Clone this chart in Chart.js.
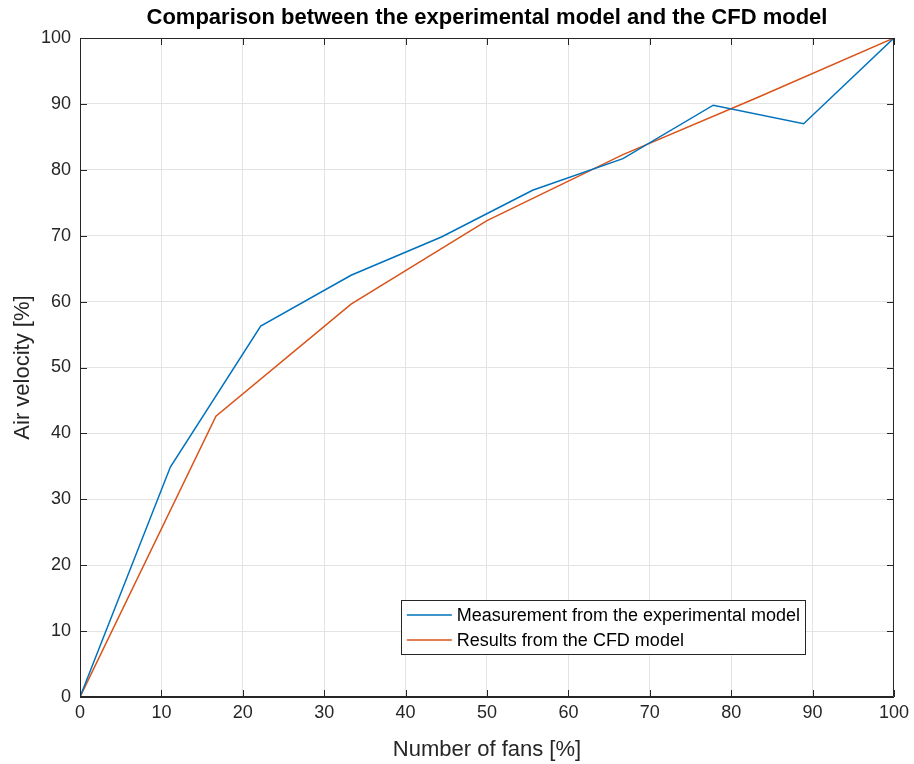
<!DOCTYPE html>
<html>
<head>
<meta charset="utf-8">
<script src="https://cdn.jsdelivr.net/npm/chart.js@4.4.1/dist/chart.umd.min.js"></script>
<style>
  html, body { margin: 0; padding: 0; background: #fff; }
  #wrap { width: 914px; height: 764px; }
</style>
</head>
<body>
<div id="wrap"><canvas id="fanChart" width="914" height="764"></canvas></div>
<script>
// values
const measX = [0, 11.1, 22.2, 33.3, 44.4, 55.6, 66.7, 77.8, 88.9, 100];
const measY = [0, 34.9, 56.3, 64.0, 69.8, 76.9, 81.7, 89.8, 87.0, 100];
const cfdX = [0, 16.7, 33.3, 50, 66.7, 83.3, 100];
const cfdY = [0, 42.6, 59.6, 72.3, 82.3, 91.0, 100];
const axisTicks = [0, 10, 20, 30, 40, 50, 60, 70, 80, 90, 100];

const FONT = '"Liberation Sans", Arial, Helvetica, sans-serif';
const AXIS_COLOR = '#262626';

function toPoints(xs, ys) {
  return xs.map((x, i) => ({ x: x, y: ys[i] }));
}

// box, inward ticks and legend drawn the MATLAB way
const matlabAxes = {
  id: 'matlabAxes',
  afterLayout(chart) {
    // center the title over the plot area, not the whole canvas
    if (chart.titleBlock) {
      chart.titleBlock.left = chart.chartArea.left;
      chart.titleBlock.right = chart.chartArea.right;
    }
  },
  afterDraw(chart) {
    const ctx = chart.ctx;
    const ca = chart.chartArea;
    const xs = chart.scales.x;
    const ys = chart.scales.y;
    ctx.save();
    ctx.strokeStyle = AXIS_COLOR;
    ctx.lineWidth = 1;
    ctx.beginPath();
    ctx.rect(ca.left + 0.5, ca.top + 0.5, ca.right - ca.left - 1, ca.bottom - ca.top - 1);
    ctx.stroke();

    // inward tick marks on all four sides
    const tl = 7;
    ctx.beginPath();
    axisTicks.forEach(v => {
      const px = Math.round(xs.getPixelForValue(v)) + 0.5;
      ctx.moveTo(px, ca.bottom); ctx.lineTo(px, ca.bottom - tl);
      ctx.moveTo(px, ca.top); ctx.lineTo(px, ca.top + tl);
      const py = Math.round(ys.getPixelForValue(v)) + 0.5;
      ctx.moveTo(ca.left, py); ctx.lineTo(ca.left + tl, py);
      ctx.moveTo(ca.right, py); ctx.lineTo(ca.right - tl, py);
    });
    ctx.stroke();

    // legend box
    ctx.font = '18px ' + FONT;
    const sets = chart.data.datasets;
    let textW = 0;
    sets.forEach(ds => { textW = Math.max(textW, ctx.measureText(ds.label).width); });
    const boxW = 6 + 45 + 5 + textW + 5;
    const boxH = 54;
    const right = ca.right - 89;
    const bottom = ca.bottom - 43;
    const left = right - boxW;
    const top = bottom - boxH;
    ctx.fillStyle = '#ffffff';
    ctx.fillRect(left, top, boxW, boxH);
    ctx.strokeStyle = AXIS_COLOR;
    ctx.strokeRect(Math.round(left) + 0.5, Math.round(top) + 0.5, Math.round(boxW), Math.round(boxH));
    sets.forEach((ds, i) => {
      const cy = top + 15 + i * 25;
      ctx.strokeStyle = ds.borderColor;
      ctx.lineWidth = 1.5;
      ctx.beginPath();
      ctx.moveTo(left + 6, cy);
      ctx.lineTo(left + 51, cy);
      ctx.stroke();
      ctx.fillStyle = '#000000';
      ctx.textBaseline = 'middle';
      ctx.textAlign = 'left';
      ctx.fillText(ds.label, left + 56, cy + 1);
    });
    ctx.restore();
  }
};

new Chart(document.getElementById('fanChart'), {
  type: 'line',
  data: {
    datasets: [
      {
        label: 'Measurement from the experimental model',
        data: toPoints(measX, measY),
        borderColor: '#0072BD',
        borderWidth: 1.5,
        pointRadius: 0,
        tension: 0
      },
      {
        label: 'Results from the CFD model',
        data: toPoints(cfdX, cfdY),
        borderColor: '#D95319',
        borderWidth: 1.5,
        pointRadius: 0,
        tension: 0
      }
    ]
  },
  options: {
    responsive: false,
    animation: false,
    layout: { padding: { left: 0, right: 20, top: 0, bottom: 0 } },
    plugins: {
      legend: { display: false },
      tooltip: { enabled: false },
      title: {
        display: true,
        text: 'Comparison between the experimental model and the CFD model',
        color: '#000000',
        font: { family: FONT, size: 22, weight: 'bold' },
        padding: { top: 5, bottom: 6.6 }
      }
    },
    scales: {
      x: {
        type: 'linear',
        min: 0,
        max: 100,
        afterBuildTicks: scale => { scale.ticks = axisTicks.map(v => ({ value: v })); },
        afterFit: scale => { scale.height = 67; },
        ticks: { color: AXIS_COLOR, font: { family: FONT, size: 18 }, padding: 5, maxRotation: 0 },
        grid: { color: '#e3e3e3', drawTicks: false },
        border: { color: AXIS_COLOR },
        title: {
          display: true,
          text: 'Number of fans [%]',
          color: AXIS_COLOR,
          font: { family: FONT, size: 22 },
          padding: { top: 0, bottom: 1 }
        }
      },
      y: {
        type: 'linear',
        min: 0,
        max: 100,
        afterBuildTicks: scale => { scale.ticks = axisTicks.map(v => ({ value: v })); },
        afterFit: scale => { scale.width = 80; },
        ticks: { color: AXIS_COLOR, font: { family: FONT, size: 18 }, padding: 9 },
        grid: { color: '#e3e3e3', drawTicks: false },
        border: { color: AXIS_COLOR },
        title: {
          display: true,
          text: 'Air velocity [%]',
          color: AXIS_COLOR,
          font: { family: FONT, size: 22 },
          padding: { top: 10, bottom: 0 }
        }
      }
    }
  },
  plugins: [matlabAxes]
});
</script>
</body>
</html>
